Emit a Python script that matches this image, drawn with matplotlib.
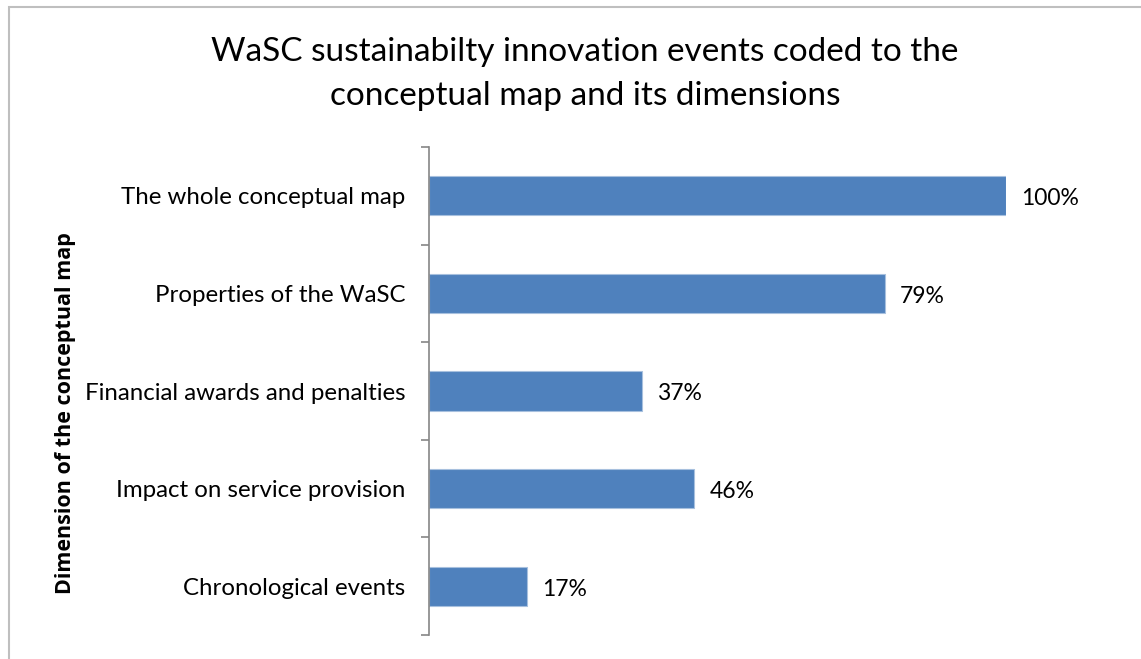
import matplotlib.pyplot as plt
from matplotlib.patches import Rectangle

categories = ['The whole conceptual map', 'Properties of the WaSC',
              'Financial awards and penalties', 'Impact on service provision',
              'Chronological events']
values = [1.00, 0.79, 0.37, 0.46, 0.17]
labels = ['100%', '79%', '37%', '46%', '17%']

plt.rcParams['font.family'] = ['Lato', 'DejaVu Sans']

fig = plt.figure(figsize=(11.41, 6.59), dpi=100)
ax = fig.add_axes([429/1141, 1 - 635/659, (1006 - 429)/1141, (635 - 147)/659])

ypos = list(range(len(categories)))
ax.barh(ypos, values, height=0.4, color='#4f81bd', edgecolor='#a7c0de', linewidth=0.8)
ax.set_xlim(0, 1.0)
ax.set_ylim(len(categories) - 0.5, -0.5)

for y, v, lab in zip(ypos, values, labels):
    ax.text(v + 0.026, y + 0.03, lab, va='center', ha='left', fontsize=16.5)

ax.set_yticks(ypos)
ax.set_yticklabels(categories, fontsize=17.3)
ax.set_yticks([i - 0.5 for i in range(len(categories) + 1)], minor=True)
ax.tick_params(axis='y', which='major', length=0, pad=17)
ax.tick_params(axis='y', which='minor', length=6, color='#868686', width=1.2)
ax.set_xticks([])
for s in ['top', 'right', 'bottom']:
    ax.spines[s].set_visible(False)
ax.spines['left'].set_color('#868686')
ax.spines['left'].set_linewidth(1.2)

fig.text(66/1141, 1 - 413/659, 'Dimension of the conceptual map', rotation=90,
         ha='center', va='center', fontsize=15.5, fontweight='bold', family='Open Sans')
fig.text(585/1141, 1 - 74/659,
         'WaSC sustainabilty innovation events coded to the\nconceptual map and its dimensions',
         ha='center', va='center', fontsize=24, linespacing=1.6)

fig.patches.append(Rectangle((9/1141, -0.1), 1.2, (1 - 7/659) + 0.1, transform=fig.transFigure,
                             fill=False, edgecolor='#bfbfbf', linewidth=1.5))

fig.savefig('out.png', dpi=100)
